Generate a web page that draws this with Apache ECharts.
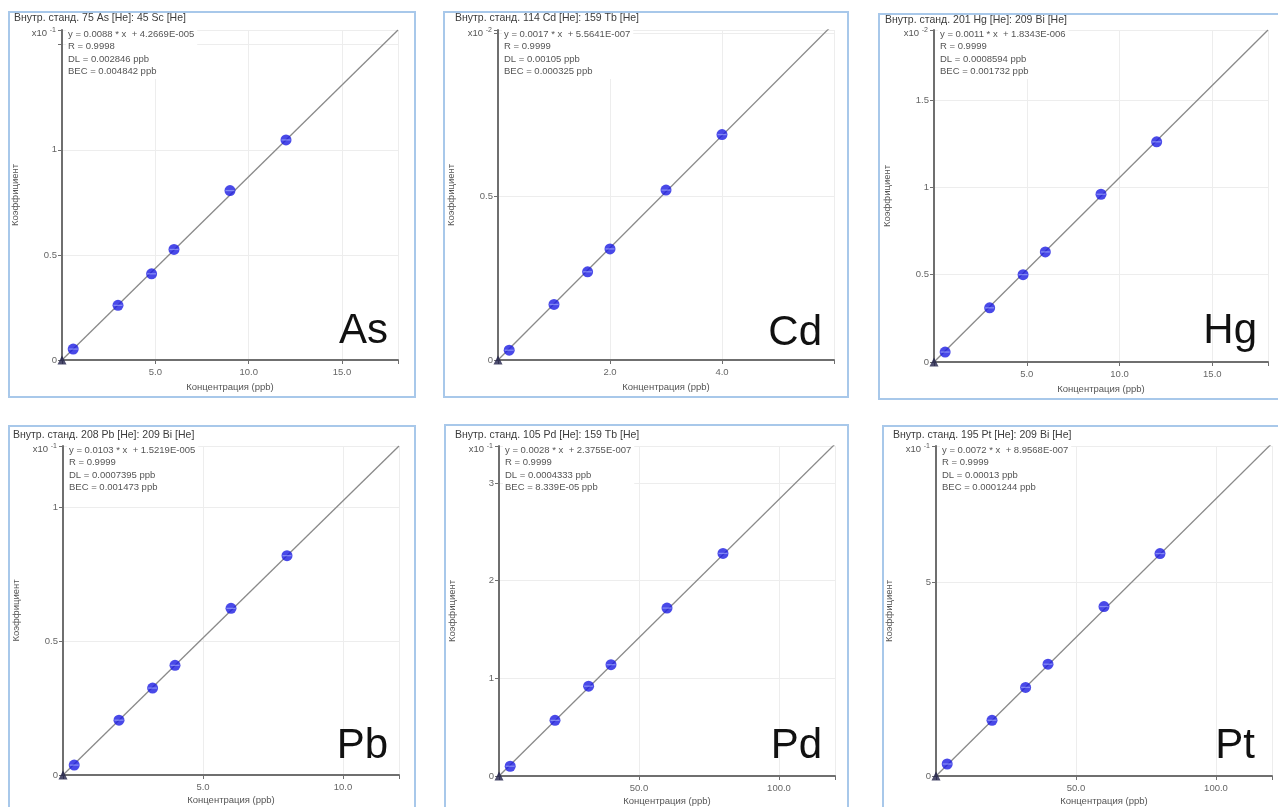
<!DOCTYPE html>
<html><head><meta charset="utf-8">
<script src="https://cdn.jsdelivr.net/npm/echarts@6.0.0/dist/echarts.min.js"></script>
<style>html,body{margin:0;padding:0;background:#fff}#c{width:1278px;height:807px}</style>
</head><body><div id="c"></div>
<script>
// ---- data ----
const elements = ['As', 'Cd', 'Hg', 'Pb', 'Pd', 'Pt'];
const titles = [
  'Внутр. станд. 75 As [He]: 45 Sc [He]',
  'Внутр. станд. 114 Cd [He]: 159 Tb [He]',
  'Внутр. станд. 201 Hg [He]: 209 Bi [He]',
  'Внутр. станд. 208 Pb [He]: 209 Bi [He]',
  'Внутр. станд. 105 Pd [He]: 159 Tb [He]',
  'Внутр. станд. 195 Pt [He]: 209 Bi [He]'
];
const equations = [
  ['y = 0.0088 * x  + 4.2669E-005', 'R = 0.9998', 'DL = 0.002846 ppb', 'BEC = 0.004842 ppb'],
  ['y = 0.0017 * x  + 5.5641E-007', 'R = 0.9999', 'DL = 0.00105 ppb', 'BEC = 0.000325 ppb'],
  ['y = 0.0011 * x  + 1.8343E-006', 'R = 0.9999', 'DL = 0.0008594 ppb', 'BEC = 0.001732 ppb'],
  ['y = 0.0103 * x  + 1.5219E-005', 'R = 0.9999', 'DL = 0.0007395 ppb', 'BEC = 0.001473 ppb'],
  ['y = 0.0028 * x  + 2.3755E-007', 'R = 0.9999', 'DL = 0.0004333 ppb', 'BEC = 8.339E-05 ppb'],
  ['y = 0.0072 * x  + 8.9568E-007', 'R = 0.9999', 'DL = 0.00013 ppb', 'BEC = 0.0001244 ppb']
];
const exponents = ['-1', '-2', '-2', '-1', '-1', '-1'];
const xAxisName = 'Концентрация (ppb)';
const yAxisName = 'Коэффициент';

const concAs = [0, 0.6, 3, 4.8, 6, 9, 12];
const ratioAs = [0, 0.052, 0.26, 0.41, 0.526, 0.806, 1.047];
const concCd = [0, 0.2, 1, 1.6, 2, 3, 4];
const ratioCd = [0, 0.03, 0.17, 0.27, 0.34, 0.52, 0.69];
const concHg = [0, 0.6, 3, 4.8, 6, 9, 12];
const ratioHg = [0, 0.057, 0.31, 0.50, 0.63, 0.96, 1.26];
const concPb = [0, 0.4, 2, 3.2, 4, 6, 8];
const ratioPb = [0, 0.037, 0.205, 0.325, 0.41, 0.623, 0.82];
const concPd = [0, 4, 20, 32, 40, 60, 80];
const ratioPd = [0, 0.10, 0.57, 0.92, 1.14, 1.72, 2.28];
const concPt = [0, 4, 20, 32, 40, 60, 80];
const ratioPt = [0, 0.31, 1.44, 2.29, 2.89, 4.38, 5.75];

// fitted calibration line end points
const fitAs = [[0, 0], [18, 1.57]];
const fitCd = [[0, 0], [6, 1.03]];
const fitHg = [[0, 0], [18, 1.9]];
const fitPb = [[0, 0], [12, 1.23]];
const fitPd = [[0, 0], [120, 3.4]];
const fitPt = [[0, 0], [120, 8.6]];

// axis ranges and tick labels
const xMaxes = [18, 6, 18, 12, 120, 120];
const yMaxes = [1.57, 1.01, 1.9, 1.23, 3.38, 8.53];
const xIntervals = [5, 2, 5, 5, 50, 50];
const yIntervals = [0.5, 0.5, 0.5, 0.5, 1, 5];
const xTickLabels = [[5, 10, 15], [2, 4], [5, 10, 15], [5, 10], [50, 100], [50, 100]];
const yTickLabels = [[0, 0.5, 1], [0, 0.5], [0, 0.5, 1, 1.5], [0, 0.5, 1], [0, 1, 2, 3], [0, 5]];

const concs = [concAs, concCd, concHg, concPb, concPd, concPt];
const ratios = [ratioAs, ratioCd, ratioHg, ratioPb, ratioPd, ratioPt];
const fits = [fitAs, fitCd, fitHg, fitPb, fitPd, fitPt];

// ---- layout ----
const FONT = '"Liberation Sans", Arial, sans-serif';
const grids = [
  {left: 62, top: 30, right: 398, bottom: 360},
  {left: 498, top: 30, right: 834, bottom: 360},
  {left: 934, top: 30, right: 1268, bottom: 362},
  {left: 63, top: 446, right: 399, bottom: 775},
  {left: 499, top: 446, right: 835, bottom: 777},
  {left: 936, top: 446, right: 1272, bottom: 777}
];
const frames = [
  [9, 12, 406, 385], [444, 12, 404, 385], [879, 14, 410, 385],
  [9, 426, 406, 400], [445, 425, 403, 400], [883, 426, 410, 400]
];
const titlePos = [[14, 18], [455, 18], [885, 20], [13, 435], [455, 435], [893, 435]];
const bigPos = [[388, 331], [822, 333], [1257, 331], [388, 746], [822, 746], [1255, 746]];

const option = {
  animation: false,
  backgroundColor: '#fff',
  grid: [], xAxis: [], yAxis: [], series: [], graphic: []
};

const near = (arr, v) => arr.some(a => Math.abs(a - v) < 1e-6);
const axisColor = '#6f6f6f';

grids.forEach((g, i) => {
  option.grid.push({left: g.left, top: g.top, width: g.right - g.left, height: g.bottom - g.top, containLabel: false});
  option.xAxis.push({
    type: 'value', gridIndex: i, min: 0, max: xMaxes[i], interval: xIntervals[i],
    axisLine: {show: true, onZero: false, lineStyle: {color: axisColor, width: 2}},
    axisTick: {show: true, length: 4, lineStyle: {color: axisColor}},
    axisLabel: {color: '#666', fontSize: 9.5, fontFamily: FONT, margin: 7,
      showMinLabel: true, showMaxLabel: true,
      formatter: v => near(xTickLabels[i], v) ? v.toFixed(1) : ''},
    splitLine: {show: true, lineStyle: {color: '#ededed', width: 1}},
    name: xAxisName, nameLocation: 'middle', nameGap: i < 3 ? 22 : 20,
    nameTextStyle: {color: '#555', fontSize: 9.5, fontFamily: FONT}
  });
  option.yAxis.push({
    type: 'value', gridIndex: i, min: 0, max: yMaxes[i], interval: yIntervals[i],
    axisLine: {show: true, onZero: false, lineStyle: {color: axisColor, width: 2}},
    axisTick: {show: true, length: 4, lineStyle: {color: axisColor}},
    axisLabel: {color: '#666', fontSize: 9.5, fontFamily: FONT, margin: 5,
      showMinLabel: true, showMaxLabel: true,
      formatter: v => near(yTickLabels[i], v) ? String(v) : ''},
    splitLine: {show: true, lineStyle: {color: '#ededed', width: 1}},
    name: yAxisName, nameLocation: 'middle', nameGap: 42, nameRotate: 90,
    nameTextStyle: {color: '#555', fontSize: 9.5, fontFamily: FONT}
  });
  // fit line
  option.series.push({
    type: 'line', xAxisIndex: i, yAxisIndex: i, data: fits[i], symbol: 'none',
    lineStyle: {color: '#8a8a8a', width: 1.3}, clip: true, silent: true, z: 2
  });
  const pts = concs[i].map((c, k) => [c, ratios[i][k]]);
  // standards
  option.series.push({
    type: 'scatter', xAxisIndex: i, yAxisIndex: i,
    data: pts.slice(1), symbol: 'circle', symbolSize: 11,
    itemStyle: {color: '#1c1ce2'}, z: 3, silent: true
  });
  // highlight stripe on markers
  option.series.push({
    type: 'scatter', xAxisIndex: i, yAxisIndex: i,
    data: pts.slice(1), symbol: 'rect', symbolSize: [9, 1.3],
    itemStyle: {color: 'rgba(170,180,255,0.75)'}, z: 4, silent: true
  });
  // blank
  option.series.push({
    type: 'scatter', xAxisIndex: i, yAxisIndex: i,
    data: pts.slice(0, 1), symbol: 'triangle', symbolSize: 9,
    itemStyle: {color: '#20204a'}, z: 4, silent: true
  });

  const f = frames[i];
  option.graphic.push({
    type: 'rect', shape: {x: f[0], y: f[1], width: f[2], height: f[3]},
    style: {fill: 'none', stroke: '#a8c8ea', lineWidth: 2}, silent: true, z: 0
  });
  option.graphic.push({
    type: 'text', x: titlePos[i][0], y: titlePos[i][1],
    style: {text: titles[i], fill: '#3c3c3c', fontSize: 10.5, fontFamily: FONT, verticalAlign: 'middle'},
    silent: true
  });
  option.graphic.push({
    type: 'text', x: g.left + 4, y: g.top - 3, z: 100,
    style: {text: equations[i].join('\n'), fill: '#555', fontSize: 9.5, lineHeight: 12.5, fontFamily: FONT,
      verticalAlign: 'top', backgroundColor: '#fff', padding: [1, 3, 1, 2]},
    silent: true
  });
  option.graphic.push({
    type: 'text', x: g.left - 15, y: g.top + 3,
    style: {text: 'x10', fill: '#555', fontSize: 9.5, fontFamily: FONT, align: 'right', verticalAlign: 'middle'},
    silent: true
  });
  option.graphic.push({
    type: 'text', x: g.left - 6, y: g.top,
    style: {text: exponents[i], fill: '#555', fontSize: 7, fontFamily: FONT, align: 'right', verticalAlign: 'middle'},
    silent: true
  });
  option.graphic.push({
    type: 'text', x: bigPos[i][0], y: bigPos[i][1],
    style: {text: elements[i], fill: '#111', fontSize: 42, fontFamily: FONT, align: 'right', verticalAlign: 'middle'},
    silent: true, z: 10
  });
});

const chart = echarts.init(document.getElementById('c'), null, {renderer: 'canvas'});
chart.setOption(option);
</script>
</body></html>
